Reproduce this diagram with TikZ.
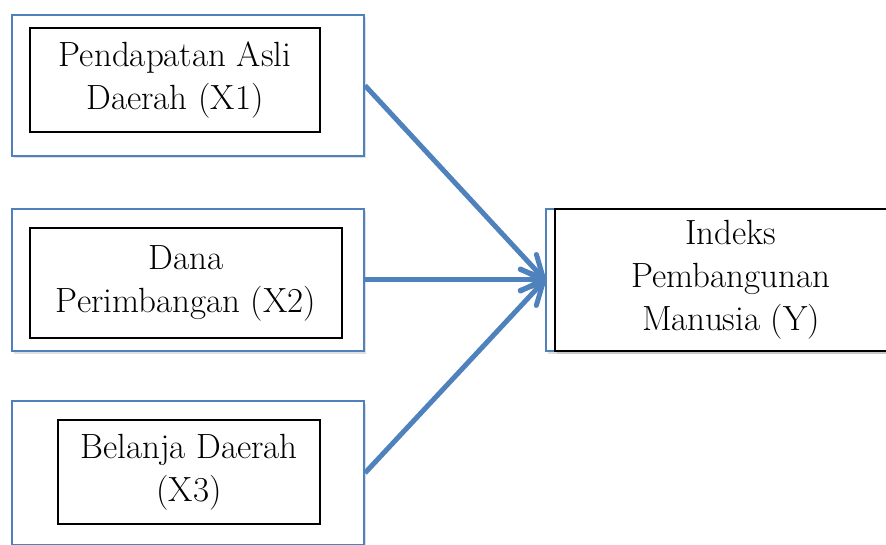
\documentclass[tikz,border=0pt]{standalone}
\usetikzlibrary{arrows.meta,shadows}
\definecolor{wordblue}{RGB}{79,129,189}
\tikzset{
  outerbox/.style={draw=wordblue, line width=2pt, fill=white, inner sep=0pt,
    minimum width=352pt, minimum height=142pt,
    drop shadow={shadow xshift=1.5pt, shadow yshift=-2.5pt, opacity=0.25}},
  varbox/.style={draw=black, line width=1.3pt, fill=white, inner sep=0pt,
    align=center, font=\fontsize{35}{43}\selectfont},
  link/.style={wordblue, line width=5pt,
    -{Straight Barb[length=22pt, width=22pt, round]}}
}
\begin{document}
\begin{tikzpicture}[x=1pt, y=-1pt]
    % --- 画布范围 ---
    \useasboundingbox (0,0) rectangle (886,545);
    \clip (0,0) rectangle (886,545);

    % --- 左侧外框 (蓝色) ---
    \node[outerbox, minimum height=141pt] (out1) at (188,85.5) {};
    \node[outerbox] (out2) at (188,280) {};
    \node[outerbox, minimum height=144pt] (out3) at (188,473) {};

    % --- 左侧变量框 ---
    \node[varbox, minimum width=290pt, minimum height=104pt] (pad) at (175,80)
      {Pendapatan Asli\\Daerah (X1)};
    \node[varbox, minimum width=312pt, minimum height=110pt] (dp) at (186,283)
      {Dana\\Perimbangan (X2)};
    \node[varbox, minimum width=262pt, minimum height=104pt] (bd) at (189,472)
      {Belanja Daerah\\(X3)};

    % --- 右侧 Y 框 ---
    \node[outerbox] (outy) at (722,280) {};
    \node[varbox, minimum width=352pt, minimum height=142pt,
      drop shadow={shadow xshift=1.5pt, shadow yshift=-2.5pt, opacity=0.25}] (ipm) at (731,280)
      {Indeks\\Pembangunan\\Manusia (Y)};

    % --- 箭头 ---
    \draw[link] (out1.east) -- (outy.west);
    \draw[link] (out2.east) -- (outy.west);
    \draw[link] (out3.east) -- (outy.west);

\end{tikzpicture}
\end{document}
